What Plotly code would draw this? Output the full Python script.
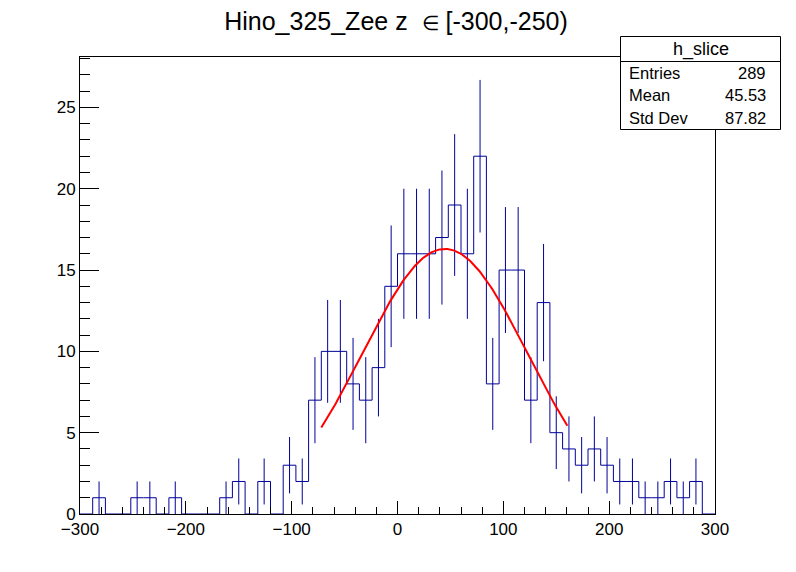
import numpy as np
import plotly.graph_objects as go

# histogram h_slice: 50 bins of width 12 between -300 and 300
x_lo, x_hi = -300, 300
counts = [0, 1, 0, 0, 1, 1, 0, 1, 0, 0,
          0, 1, 2, 0, 2, 0, 3, 2, 7, 10,
          10, 8, 7, 9, 14, 16, 16, 16, 17, 19,
          16, 22, 8, 15, 15, 7, 13, 5, 4, 3,
          4, 3, 2, 2, 1, 1, 2, 1, 2, 0]

# gaussian fit
fit_const, fit_mean, fit_sigma = 16.3, 44.8, 78.0
fit_range = [-72, 160.5]

stats_title = "h_slice"
stats_rows = [("Entries", "289"), ("Mean", "45.53"), ("Std Dev", "87.82")]

nb = len(counts)
width = (x_hi - x_lo) / nb
edges = [x_lo + i * width for i in range(nb + 1)]
centers = [x_lo + (i + 0.5) * width for i in range(nb)]

hist_col = "#000099"
font = "Liberation Sans, Arial, sans-serif"

fig = go.Figure()

# step outline
fig.add_trace(go.Scatter(
    x=edges, y=counts + [counts[-1]],
    mode="lines", line=dict(color=hist_col, width=1, shape="hv"),
    showlegend=False, hoverinfo="skip"))

# sqrt(N) error bars
ex = [c for c, n in zip(centers, counts) if n > 0]
ey = [n for n in counts if n > 0]
fig.add_trace(go.Scatter(
    x=ex, y=ey, mode="markers",
    marker=dict(size=1, color=hist_col, opacity=0),
    error_y=dict(type="data", array=list(np.sqrt(ey)), width=0,
                 thickness=1, color=hist_col),
    showlegend=False, hoverinfo="skip"))

# fit curve
xf = np.linspace(fit_range[0], fit_range[1], 200)
yf = fit_const * np.exp(-0.5 * ((xf - fit_mean) / fit_sigma) ** 2)
fig.add_trace(go.Scatter(
    x=xf, y=yf, mode="lines", line=dict(color="#ff0000", width=2),
    showlegend=False, hoverinfo="skip"))

# page has an 8px body margin, so the figure is drawn 8px smaller
OFF = 8
W, H = 796 - OFF, 572 - OFF
# plot area in page pixels: x 80..715, y 57..514
L, R, T, B = 80, 715, 57, 514


def px(xp):
    return (xp - L) / (R - L)


def py(yp):
    return (B - yp) / (B - T)


# stats box
bx0, bx1, by0, by1, bsep = 620.5, 780.5, 36.5, 129.5, 61.5
fig.add_shape(type="rect", xref="paper", yref="paper",
              x0=px(bx0), x1=px(bx1), y0=py(by1), y1=py(by0),
              line=dict(color="black", width=1), fillcolor="white", layer="above")
fig.add_shape(type="line", xref="paper", yref="paper",
              x0=px(bx0), x1=px(bx1), y0=py(bsep), y1=py(bsep),
              line=dict(color="black", width=1), layer="above")
fig.add_annotation(xref="paper", yref="paper", x=px((bx0 + bx1) / 2), y=py(49),
                   text=stats_title, showarrow=False, xanchor="center", yanchor="middle",
                   font=dict(family=font, size=18, color="black"))
for i, (k, v) in enumerate(stats_rows):
    yy = py(73 + i * 22.3)
    fig.add_annotation(xref="paper", yref="paper", x=px(627), y=yy, text=k,
                       showarrow=False, xanchor="left", yanchor="middle",
                       font=dict(family=font, size=16.5, color="black"))
    fig.add_annotation(xref="paper", yref="paper", x=px(768), y=yy, text=v,
                       showarrow=False, xanchor="right", yanchor="middle",
                       font=dict(family=font, size=16.5, color="black"))

title_txt = ("Hino_325_Zee z \u00a0<span style='font-size:20px'>\u2208</span> "
             "[-300,-250)")
fig.update_layout(
    width=W, height=H,
    margin=dict(l=L - OFF, r=W - (R - OFF), t=T - OFF, b=H - (B - OFF), pad=0),
    paper_bgcolor="white", plot_bgcolor="white",
    title=dict(text=title_txt, x=(396 - OFF) / W,
               xanchor="center", y=1 - (21 - OFF) / H, yanchor="middle",
               font=dict(family=font, size=25, color="black")),
    font=dict(family=font, size=17, color="black"),
    showlegend=False,
)
fig.update_xaxes(
    range=[x_lo, x_hi], showgrid=False, zeroline=False,
    showline=True, mirror=True, linecolor="black", linewidth=1,
    ticks="inside", ticklen=13, tickcolor="black", tickwidth=1, dtick=100,
    tickfont=dict(family=font, size=17),
    minor=dict(ticks="inside", ticklen=7, dtick=20, tickcolor="black", showgrid=False))
fig.update_yaxes(
    range=[0, 28.1], showgrid=False, zeroline=False,
    showline=True, mirror=True, linecolor="black", linewidth=1,
    ticks="inside", ticklen=19, tickcolor="black", tickwidth=1, dtick=5,
    tickfont=dict(family=font, size=17),
    minor=dict(ticks="inside", ticklen=10, dtick=1, tickcolor="black", showgrid=False))

fig.write_html("out.html")
